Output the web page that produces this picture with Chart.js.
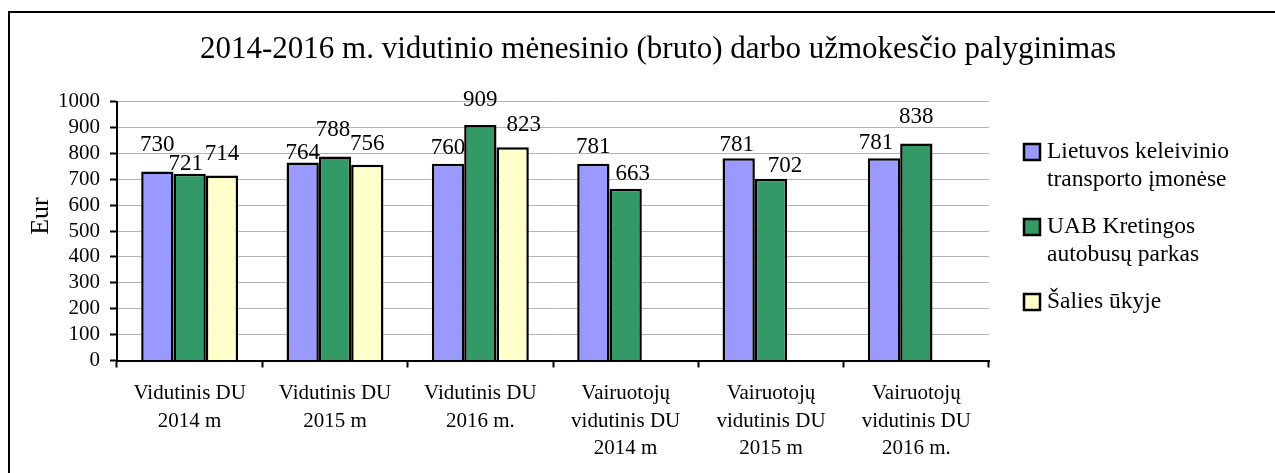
<!DOCTYPE html>
<html>
<head>
<meta charset="utf-8">
<script src="https://cdn.jsdelivr.net/npm/chart.js@4.4.0/dist/chart.umd.min.js"></script>
<style>
    html, body { margin: 0; padding: 0; background: #fff; }
    #wrap { position: relative; width: 1275px; height: 473px; }
</style>
</head>
<body>
<div id="wrap"><canvas id="salaryChart"></canvas></div>
<script>
const chartTitle = "2014-2016 m. vidutinio mėnesinio (bruto) darbo užmokesčio palyginimas";
const yTitle = "Eur";

const categories = [
    ["Vidutinis DU", "2014 m"],
    ["Vidutinis DU", "2015 m"],
    ["Vidutinis DU", "2016 m."],
    ["Vairuotojų", "vidutinis DU", "2014 m"],
    ["Vairuotojų", "vidutinis DU", "2015 m"],
    ["Vairuotojų", "vidutinis DU", "2016 m."]
];

const seriesNames = [
    ["Lietuvos keleivinio", "transporto įmonėse"],
    ["UAB Kretingos", "autobusų parkas"],
    ["Šalies ūkyje"]
];

// bar heights as drawn in the picture
const lietuvaValues = [730, 764, 760, 760, 781, 781];
const kretingaValues = [721, 788, 909, 663, 702, 838];
const salisValues = [714, 756, 823, null, null, null];

// printed value labels (the 4th blue bar is labelled 781 though drawn at ~760)
const lietuvaLabels = ["730", "764", "760", "781", "781", "781"];
const kretingaLabels = ["721", "788", "909", "663", "702", "838"];
const salisLabels = ["714", "756", "823", null, null, null];

const yTicks = { min: 0, max: 1000, step: 100 };

(() => {
    "use strict";

    const SERIF = "'Liberation Serif', 'Times New Roman', serif";
    const colors = ['#9999ff', '#339966', '#ffffcc'];
    const valueLabels = [lietuvaLabels, kretingaLabels, salisLabels];

    // label nudges [dx, gap above bar top], by series then category
    const labelShift = [
        [[0, 20], [0, 4], [0, 10], [0, 11], [-2, 7], [-8, 9]],
        [[-4, 4], [-2, 20], [0, 19], [7, 9], [14, 7], [0, 20]],
        [[0, 16], [0, 15], [11, 16]]
    ];

    const extras = {
        id: 'extras',
        afterDatasetsDraw(chart) {
            const ctx = chart.ctx;
            ctx.save();
            ctx.fillStyle = '#000';
            ctx.font = "23px " + SERIF;
            ctx.textAlign = 'center';
            ctx.textBaseline = 'alphabetic';
            chart.data.datasets.forEach((ds, di) => {
                const meta = chart.getDatasetMeta(di);
                meta.data.forEach((bar, i) => {
                    const txt = valueLabels[di][i];
                    if (txt == null || ds.data[i] == null) {
                        return;
                    }
                    const sh = (labelShift[di] && labelShift[di][i]) || [0, 5];
                    ctx.fillText(txt, bar.x + sh[0], bar.y - sh[1]);
                });
            });
            ctx.restore();
        },
        afterDraw(chart) {
            const ctx = chart.ctx;
            ctx.save();

            // frame (runs off the right and bottom edge)
            ctx.strokeStyle = '#000';
            ctx.lineWidth = 2;
            ctx.beginPath();
            ctx.moveTo(9, 480);
            ctx.lineTo(9, 12);
            ctx.lineTo(1280, 12);
            ctx.stroke();

            // title
            ctx.fillStyle = '#000';
            ctx.textAlign = 'center';
            ctx.textBaseline = 'middle';
            ctx.font = "31px " + SERIF;
            ctx.fillText(chartTitle, 658, 50);

            // y axis title
            ctx.save();
            ctx.translate(41, 216);
            ctx.rotate(-Math.PI / 2);
            ctx.font = "26px " + SERIF;
            ctx.fillText(yTitle, 0, 0);
            ctx.restore();

            // legend
            ctx.font = "23.5px " + SERIF;
            ctx.textAlign = 'left';
            let y = 152;
            seriesNames.forEach((lines, i) => {
                ctx.fillStyle = colors[i];
                ctx.fillRect(1024, y - 8, 16, 16);
                ctx.lineWidth = 2.5;
                ctx.strokeStyle = '#000';
                ctx.strokeRect(1024, y - 8, 16, 16);
                ctx.fillStyle = '#000';
                lines.forEach((t, k) => {
                    ctx.fillText(t, 1047, y + k * 28);
                });
                y += lines.length * 28 + 19;
            });

            ctx.restore();
        }
    };

    function makeSet(i, data) {
        return {
            label: seriesNames[i].join(' '),
            data: data,
            backgroundColor: colors[i],
            borderColor: '#000',
            borderWidth: 2.5,
            categoryPercentage: 0.667,
            barPercentage: 1
        };
    }

    new Chart(document.getElementById('salaryChart'), {
        type: 'bar',
        data: {
            labels: categories,
            datasets: [
                makeSet(0, lietuvaValues),
                makeSet(1, kretingaValues),
                makeSet(2, salisValues)
            ]
        },
        options: {
            responsive: true,
            maintainAspectRatio: false,
            animation: false,
            devicePixelRatio: 1,
            layout: {
                padding: { left: 10, right: 286, top: 101.5, bottom: 0 }
            },
            plugins: {
                legend: { display: false },
                title: { display: false },
                tooltip: { enabled: false }
            },
            scales: {
                x: {
                    offset: true,
                    grid: {
                        offset: true,
                        drawOnChartArea: false,
                        drawTicks: true,
                        tickLength: 7,
                        tickColor: '#000',
                        tickWidth: 2
                    },
                    border: { color: '#000', width: 2 },
                    ticks: {
                        color: '#000',
                        padding: 12,
                        maxRotation: 0,
                        autoSkip: false,
                        font: { family: SERIF, size: 21, lineHeight: 1.32 }
                    },
                    afterFit(scale) {
                        scale.height = 112.5;
                    }
                },
                y: {
                    min: yTicks.min,
                    max: yTicks.max,
                    grid: {
                        color: '#b4b4b4',
                        lineWidth: 1,
                        tickLength: 7,
                        tickColor: '#000',
                        tickWidth: 2
                    },
                    border: { color: '#000', width: 2 },
                    ticks: {
                        stepSize: yTicks.step,
                        autoSkip: false,
                        color: '#000',
                        padding: 10,
                        font: { family: SERIF, size: 21 },
                        callback: (v) => String(v)
                    },
                    afterFit(scale) {
                        scale.width = 107;
                    }
                }
            }
        },
        plugins: [extras]
    });

})();
</script>
</body>
</html>
